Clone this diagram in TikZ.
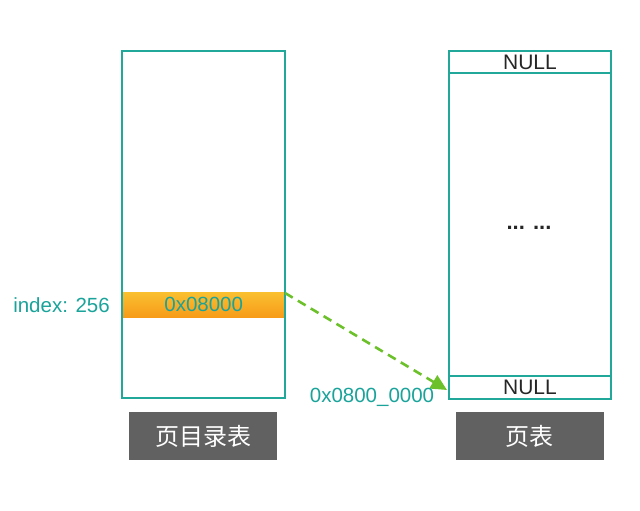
\documentclass[tikz,border=0pt]{standalone}
\usepackage{fontspec}
\setmainfont{Liberation Sans}
\newfontfamily\cjk{Noto Sans CJK SC}
\usetikzlibrary{arrows.meta}
\definecolor{teal1}{HTML}{22A89A}
\definecolor{tealtxt}{HTML}{1AA39A}
\definecolor{orng}{HTML}{F6AC1C}
\definecolor{orngtop}{HTML}{FAC030}
\definecolor{gbox}{HTML}{616161}
\definecolor{grn}{HTML}{6CC12A}
\begin{document}
\begin{tikzpicture}[x=1pt,y=-1pt,
  tbl/.style={draw=teal1,line width=1.1pt,inner sep=0pt},
  lbl/.style={fill=gbox,text=white,minimum width=148pt,minimum height=48pt,inner sep=0pt,font=\cjk\fontsize{24}{24}\selectfont},
  tt/.style={text=tealtxt,font=\fontsize{20.5}{20.5}\selectfont,inner sep=0pt},
  nulltxt/.style={text=black!85,font=\fontsize{21}{21}\selectfont,inner sep=0pt}]
\useasboundingbox (0,0) rectangle (640,511);
% left table
\node[top color=orngtop,bottom color=orng!90!red,draw=none,minimum width=163pt,minimum height=25pt,inner sep=0pt,anchor=north west] (entry) at (122,292) {};
\node[tbl,minimum width=163pt,minimum height=347pt] (dir) at (203.5,224.5) {};
\node[tt] at (entry.center) {0x08000};
\node[tt,anchor=east] (idx) at (110,305) {index: 256};
% right table
\node[tbl,minimum width=162pt,minimum height=348pt] (pt) at (530,225) {};
\draw[tbl] (pt.west |- 0,73) -- (pt.east |- 0,73);
\draw[tbl] (pt.west |- 0,376) -- (pt.east |- 0,376);
\node[nulltxt] (n1) at (530,62) {NULL};
\node[nulltxt] (n2) at (530,387) {NULL};
\node[font=\bfseries\fontsize{22}{22}\selectfont,text=black!85] (dots) at (529,228) {... ...};
% arrow
\coordinate (a1) at (285,293);
\coordinate (a2) at (447,390);
\draw[grn,line width=2.6pt,dash pattern=on 9pt off 6pt,-{Triangle[length=16pt,width=15pt]}] (a1) -- (a2);
\node[tt] (addr) at (372,397) {0x0800\_0000};
% labels
\node[lbl] (l1) at (203,436) {页目录表};
\node[lbl] (l2) at (529.5,436) {页表};
\end{tikzpicture}
\end{document}
